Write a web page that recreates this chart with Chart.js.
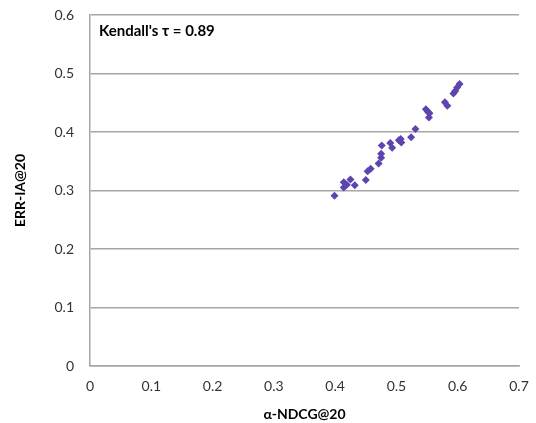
<!DOCTYPE html>
<html>
<head>
<meta charset="utf-8">
<script src="https://cdn.jsdelivr.net/npm/chart.js@4/dist/chart.umd.min.js"></script>
<style>
html,body{margin:0;padding:0;background:#fff;}
#wrap{position:relative;width:536px;height:423px;}
</style>
</head>
<body>
<div id="wrap"><canvas id="c" width="536" height="423"></canvas></div>
<script>
const alphaNDCG = [0.399,0.414,0.414,0.419,0.425,0.432,0.450,0.453,0.458,0.471,0.475,0.475,0.476,0.490,0.493,0.504,0.507,0.508,0.524,0.531,0.548,0.551,0.554,0.553,0.579,0.583,0.593,0.596,0.599,0.603];
const errIA    = [0.291,0.305,0.314,0.310,0.319,0.309,0.318,0.333,0.337,0.346,0.356,0.363,0.377,0.381,0.373,0.386,0.388,0.382,0.391,0.405,0.439,0.435,0.432,0.425,0.451,0.445,0.466,0.470,0.476,0.482];
const xTicks = [0,0.1,0.2,0.3,0.4,0.5,0.6,0.7];
const yTicks = [0,0.1,0.2,0.3,0.4,0.5,0.6];
const annotationText = "Kendall's \u03c4 = 0.89";
const xTitle = "\u03b1-NDCG@20";
const yTitle = "ERR-IA@20";

const FONT = "Lato, 'Open Sans', sans-serif";
const points = alphaNDCG.map((x,i)=>({x:x,y:errIA[i]}));

const annot = {
  id:'annot',
  afterDraw(chart){
    const ctx = chart.ctx, a = chart.chartArea;
    ctx.save();
    ctx.font = "bold 15px " + FONT;
    ctx.fillStyle = '#000';
    ctx.textBaseline = 'middle';
    ctx.textAlign = 'left';
    ctx.fillText(annotationText, a.left + 9, a.top + 16);
    ctx.restore();
  }
};

new Chart(document.getElementById('c'), {
  type:'scatter',
  data:{datasets:[{
    data:points,
    pointStyle:'rectRot',
    pointRadius:4,
    pointHoverRadius:4,
    backgroundColor:'#5e44ae',
    borderColor:'#5e44ae',
    borderWidth:0
  }]},
  options:{
    responsive:false,
    animation:false,
    events:[],
    layout:{padding:{top:15,right:17,left:0,bottom:0}},
    plugins:{legend:{display:false},tooltip:{enabled:false}},
    scales:{
      x:{
        type:'linear', min:0, max:0.7,
        afterBuildTicks(s){ s.ticks = xTicks.map(v=>({value:v})); },
        afterFit(s){ s.height = 57; s.paddingLeft = 0; s.paddingRight = 0; },
        grid:{display:false, drawTicks:false},
        border:{display:true,color:'#a6a6a6',width:1.5},
        ticks:{color:'#333',font:{family:FONT,size:14},padding:12,maxRotation:0,callback:v=>String(v)},
        title:{display:true,text:xTitle,color:'#000',font:{family:FONT,size:14,weight:'bold'},padding:{top:2,bottom:0}}
      },
      y:{
        type:'linear', min:0, max:0.6,
        afterBuildTicks(s){ s.ticks = yTicks.map(v=>({value:v})); },
        afterFit(s){ s.width = 90; s.paddingTop = 0; s.paddingBottom = 0; },
        grid:{color:'#a6a6a6',lineWidth:1.5,drawTicks:false},
        border:{display:true,color:'#a6a6a6',width:1.5},
        ticks:{color:'#333',font:{family:FONT,size:14},padding:16,callback:v=>String(v)},
        title:{display:true,text:yTitle,color:'#000',font:{family:FONT,size:14,weight:'bold'},padding:{top:12,bottom:0}}
      }
    }
  },
  plugins:[annot]
});
</script>
</body>
</html>
